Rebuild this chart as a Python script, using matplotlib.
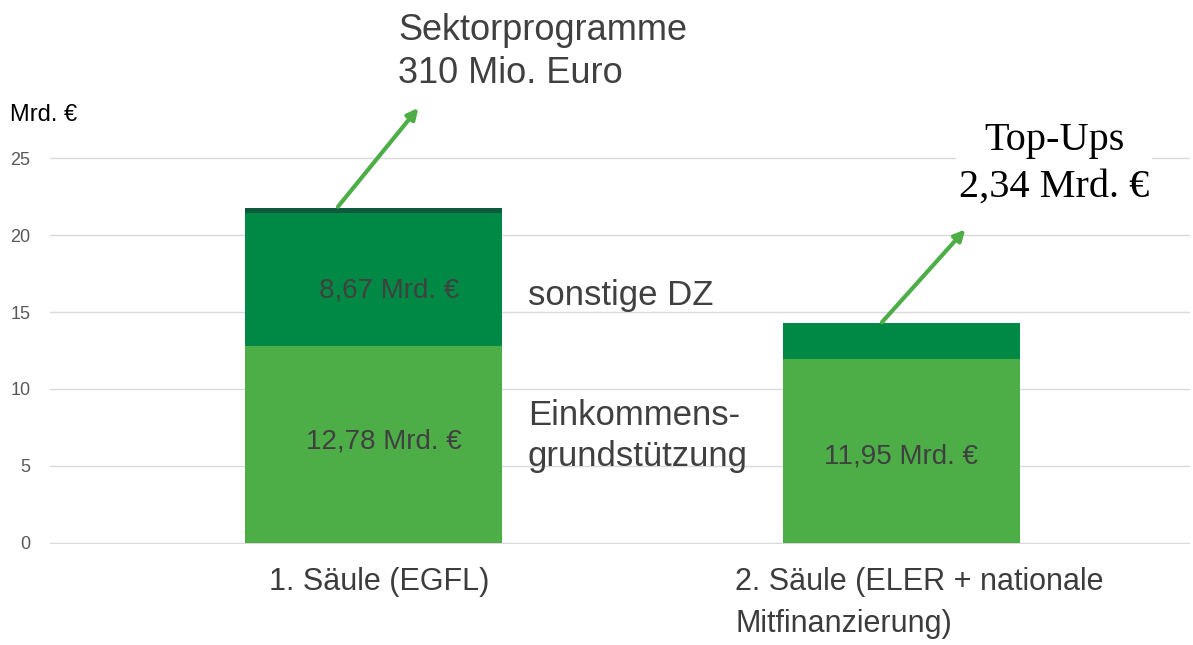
import matplotlib.pyplot as plt

# Daten (Mrd. Euro)
kategorien = ['1. Säule (EGFL)', '2. Säule (ELER + nationale\nMitfinanzierung)']
grund = [12.78, 11.95]
sonstige = [8.67, 2.34]
sektor = [0.31, 0.0]
grund_txt = ['12,78 Mrd. €', '11,95 Mrd. €']
sonst_txt = ['8,67 Mrd. €', '']
yticks = [0, 5, 10, 15, 20, 25]

hell = '#4DAE48'
mittel = '#008944'
dunkel = '#0D5A3F'
pfeil = '#4DAE48'

plt.rcParams['font.family'] = ['Liberation Sans', 'DejaVu Sans']
fig = plt.figure(figsize=(11.93, 6.45), dpi=100)
ax = fig.add_axes([50 / 1193, 101 / 645, 1140 / 1193, 387 / 645])

x = [0, 1]
breite = [0.487, 0.449]
unten2 = [g + s for g, s in zip(grund, sonstige)]
ax.bar(x, grund, width=breite, color=hell, zorder=2)
ax.bar(x, sonstige, width=breite, bottom=grund, color=mittel, zorder=2)
ax.bar(x, sektor, width=breite, bottom=unten2, color=dunkel, zorder=2)

ax.set_xlim(-0.612, 1.547)
ax.set_ylim(-0.07, 25.07)
ax.set_yticks(yticks)
ax.yaxis.grid(True, color='#d9d9d9', linewidth=1)
ax.set_axisbelow(True)
for s in ax.spines.values():
    s.set_visible(False)
ax.tick_params(axis='y', length=0, labelsize=13, labelcolor='#595959', pad=14)
ax.set_xticks([])

# Kategorien unter den Balken
ax.text(0.011, -0.06, kategorien[0], transform=ax.get_xaxis_transform(),
        ha='center', va='top', fontsize=22, color='#3c3c3c')
ax.text(0.686, -0.06, kategorien[1], transform=ax.get_xaxis_transform(),
        ha='left', va='top', fontsize=22, color='#3c3c3c', linespacing=1.5)

# Werte in den Balken
ax.text(0.03, 16.4, sonst_txt[0], ha='center', va='center', fontsize=20,
        color='#404040')
ax.text(0.02, 6.6, grund_txt[0], ha='center', va='center', fontsize=20,
        color='#404040')
ax.text(1.0, 5.6, grund_txt[1], ha='center', va='center', fontsize=20,
        color='#404040')

ax.text(0.293, 16.1, 'sonstige DZ', fontsize=25, color='#404040', va='center')
ax.text(0.293, 6.95, 'Einkommens-\ngrundstützung', fontsize=25, color='#404040',
        va='center', linespacing=1.3)

# Pfeile
ax.annotate('', xy=(0.089, 28.4), xytext=(-0.07, 21.7),
            arrowprops=dict(arrowstyle='-|>', color=pfeil, lw=3,
                            mutation_scale=16), annotation_clip=False)
ax.annotate('', xy=(1.125, 20.5), xytext=(0.96, 14.2),
            arrowprops=dict(arrowstyle='-|>', color=pfeil, lw=3,
                            mutation_scale=16), annotation_clip=False)

ax.text(0.047, 31.9, 'Sektorprogramme\n310 Mio. Euro', fontsize=26,
        color='#404040', va='center', ha='left', linespacing=1.3)
ax.text(1.29, 24.6, 'Top-Ups\n2,34 Mrd. €', fontsize=29, color='black',
        family=['Liberation Serif', 'DejaVu Serif'], ha='center', va='center',
        linespacing=1.35, bbox=dict(facecolor='white', edgecolor='none', pad=2))

fig.text(10 / 1193, 1 - 115 / 645, 'Mrd. €', fontsize=17, color='black',
         va='center', ha='left')

fig.savefig('out.png', dpi=100)
